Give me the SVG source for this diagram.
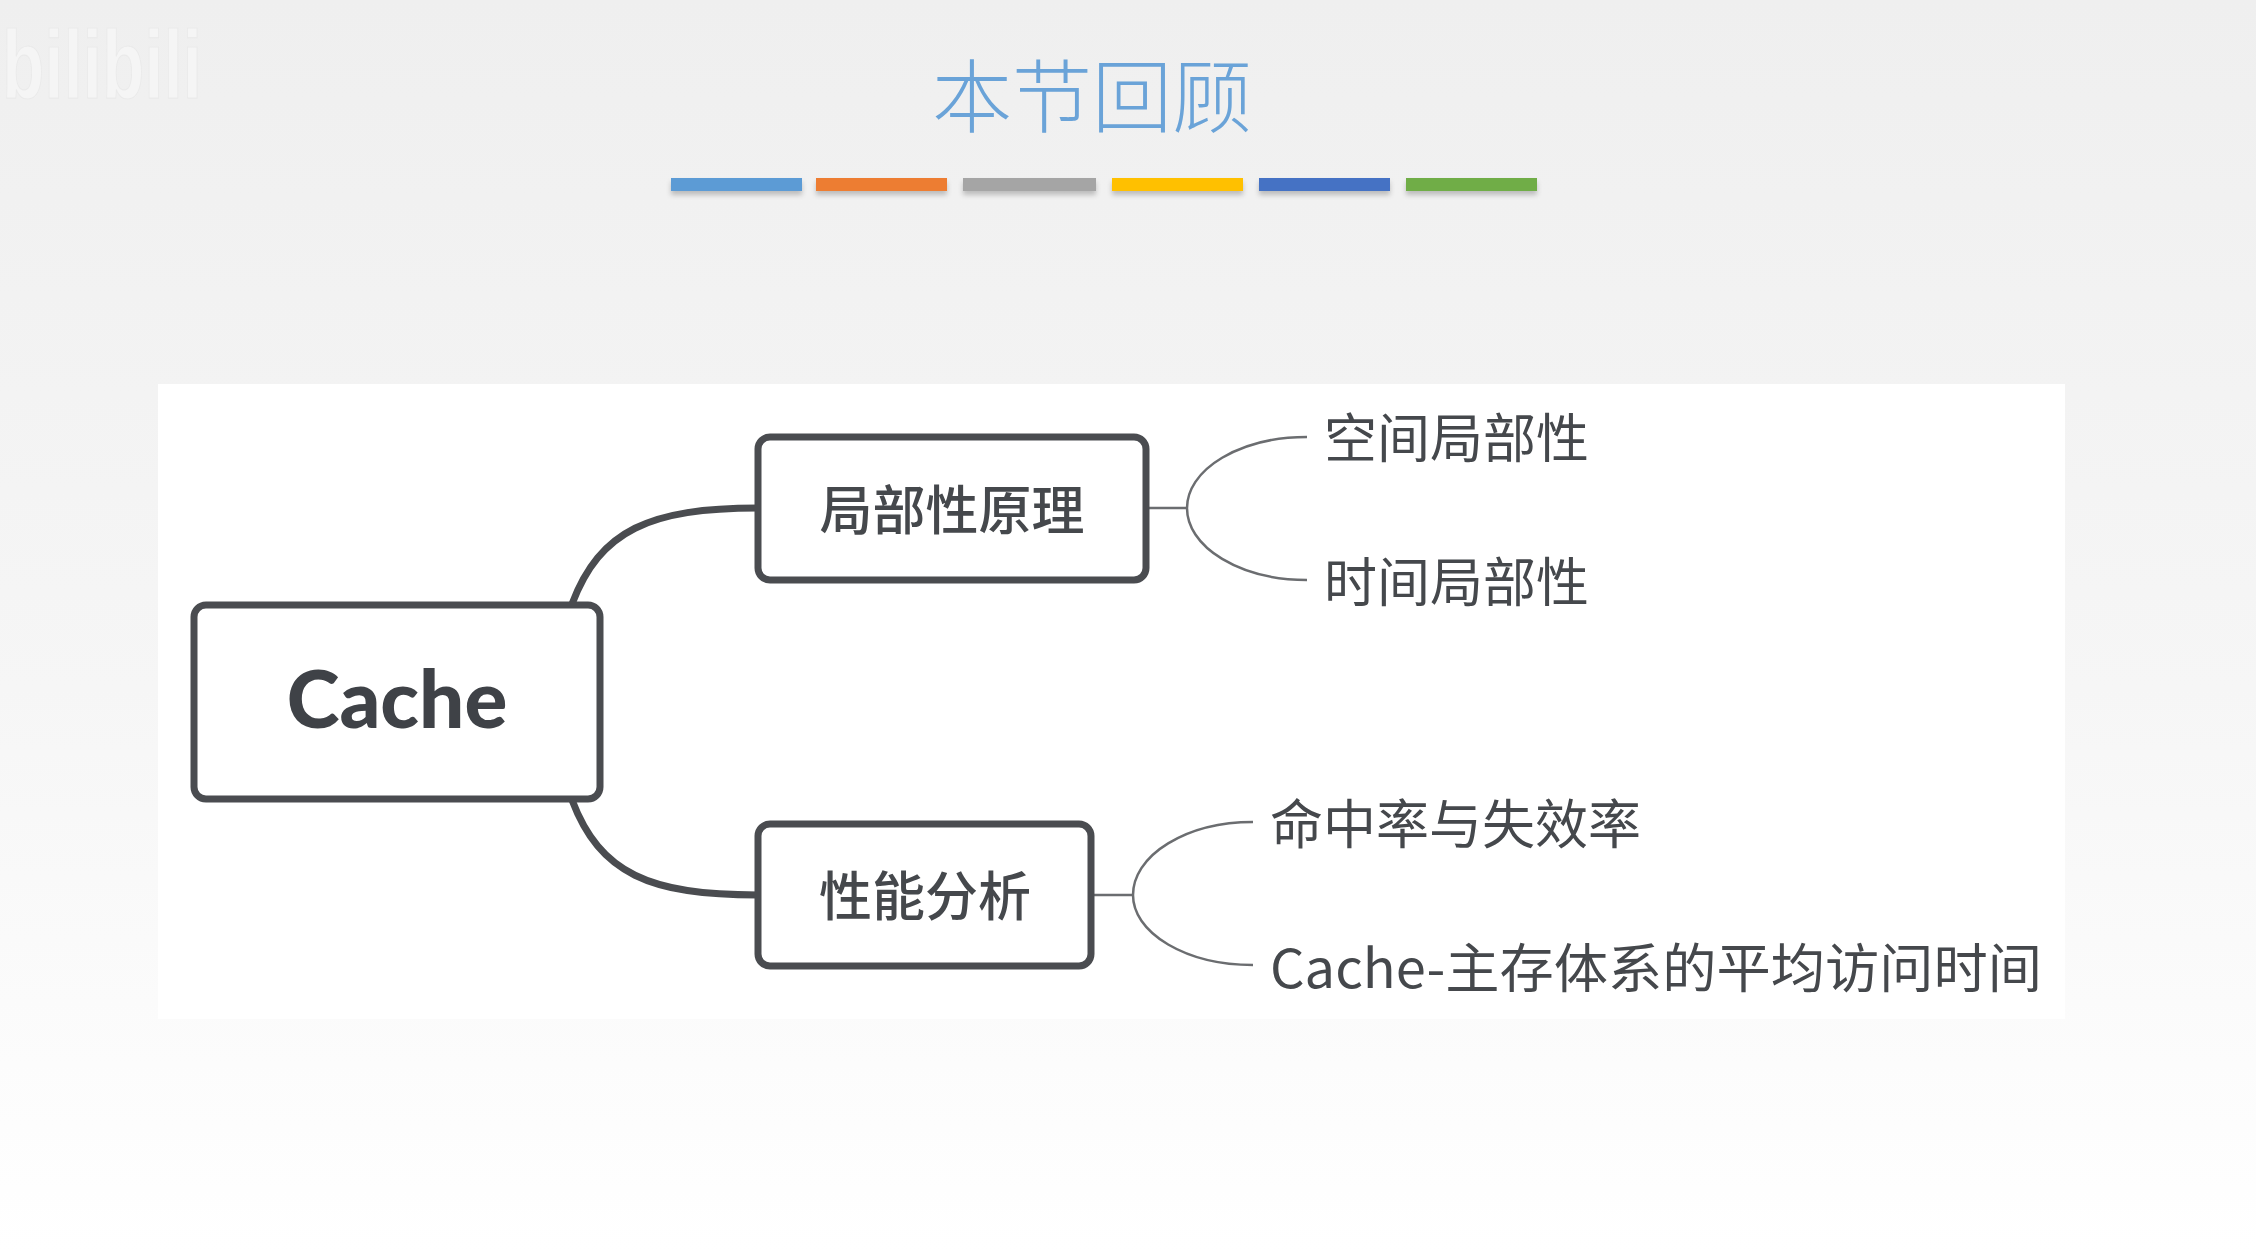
<svg xmlns="http://www.w3.org/2000/svg" width="2256" height="1252" viewBox="0 0 2256 1252">
<defs>
<linearGradient id="bg" x1="0" y1="0" x2="0" y2="1">
<stop offset="0" stop-color="#EFEFEF"/>
<stop offset="0.55" stop-color="#F6F6F6"/>
<stop offset="1" stop-color="#FFFFFF"/>
</linearGradient>
<filter id="sh" x="-10%" y="-50%" width="120%" height="250%">
<feDropShadow dx="0" dy="4" stdDeviation="2.5" flood-color="#000" flood-opacity="0.22"/>
</filter>
</defs>
<style>
.box{fill:#FFFFFF;stroke:#4A4C50;stroke-width:7}
.main{fill:none;stroke:#4A4C50;stroke-width:7;stroke-linecap:round}
.thin{fill:none;stroke:#6B6D70;stroke-width:2.5}
.cjk{font-family:"Noto Sans CJK SC","Noto Sans",sans-serif;fill:#45484C}
.topic{font-size:53px;font-weight:500;text-anchor:middle;dominant-baseline:central}
.leaf{font-size:53px;font-weight:400;dominant-baseline:central}
</style>
<rect width="2256" height="1252" fill="url(#bg)"/>
<g id="watermark" opacity="0.8">
<text x="2" y="98" font-family="Liberation Sans Narrow, Liberation Sans, sans-serif" font-size="96" font-weight="700" fill="#F7F7F7" stroke="#E9E9E9" stroke-width="1.2" textLength="200" lengthAdjust="spacingAndGlyphs">bilibili</text>
</g>
<g id="title">
<text x="1092" y="91" class="cjk" font-size="80" font-weight="300" text-anchor="middle" dominant-baseline="central" style="fill:#6AA3D8">本节回顾</text>
</g>
<g id="title-bars" filter="url(#sh)">
<rect x="671" y="178" width="131" height="13" fill="#5B9BD5"/>
<rect x="816" y="178" width="131" height="13" fill="#ED7D31"/>
<rect x="963" y="178" width="133" height="13" fill="#A5A5A5"/>
<rect x="1112" y="178" width="131" height="13" fill="#FFC000"/>
<rect x="1259" y="178" width="131" height="13" fill="#4472C4"/>
<rect x="1406" y="178" width="131" height="13" fill="#70AD47"/>
</g>
<rect id="panel" x="158" y="384" width="1907" height="635" fill="#FFFFFF"/>
<g id="connectors">
<path class="main" d="M 572 604 C 600 530 650 508 758 508"/>
<path class="main" d="M 572 800 C 600 874 650 895 758 895"/>
<path class="thin" d="M 1146 508 L 1187 508"/>
<path class="thin" d="M 1187 508 A 120 71 0 0 1 1307 437"/>
<path class="thin" d="M 1187 508 A 120 72 0 0 0 1307 580"/>
<path class="thin" d="M 1092 895 L 1133 895"/>
<path class="thin" d="M 1133 895 A 120 73 0 0 1 1253 822"/>
<path class="thin" d="M 1133 895 A 120 70 0 0 0 1253 965"/>
</g>
<g id="node-cache">
<rect class="box" x="194" y="605" width="406" height="194" rx="12"/>
<text x="397" y="728" font-family="Lato, 'Open Sans', sans-serif" font-size="80" font-weight="900" fill="#3F4247" text-anchor="middle">Cache</text>
</g>
<g id="node-locality">
<rect class="box" x="758" y="437" width="388" height="143" rx="12"/>
<text x="952" y="507" class="cjk topic">局部性原理</text>
</g>
<g id="node-performance">
<rect class="box" x="758" y="824" width="333" height="142" rx="12"/>
<text x="925" y="893" class="cjk topic">性能分析</text>
</g>
<g id="leaf-spatial">
<text x="1324" y="435" class="cjk leaf">空间局部性</text>
</g>
<g id="leaf-temporal">
<text x="1324" y="579" class="cjk leaf">时间局部性</text>
</g>
<g id="leaf-hitrate">
<text x="1270" y="821" class="cjk leaf">命中率与失效率</text>
</g>
<g id="leaf-avgtime">
<text x="1270" y="965" class="cjk leaf" textLength="772" lengthAdjust="spacingAndGlyphs">Cache-主存体系的平均访问时间</text>
</g>
</svg>
